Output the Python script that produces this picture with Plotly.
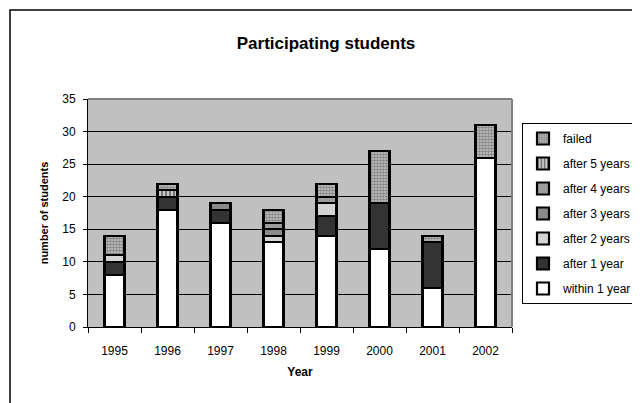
import plotly.graph_objects as go

years = ["1995", "1996", "1997", "1998", "1999", "2000", "2001", "2002"]
within_1 = [8, 18, 16, 13, 14, 12, 6, 26]
after_1 = [2, 2, 2, 0, 3, 7, 7, 0]
after_2 = [1, 0, 0, 1, 2, 0, 0, 0]
after_3 = [0, 0, 1, 1, 0, 0, 0, 0]
after_4 = [0, 0, 0, 1, 1, 0, 0, 0]
after_5 = [0, 1, 0, 0, 0, 0, 0, 0]
failed = [3, 1, 0, 2, 2, 8, 1, 5]

series = [
    ("within 1 year", within_1, dict(color="#ffffff")),
    ("after 1 year", after_1, dict(color="#333333")),
    ("after 2 years", after_2, dict(color="#d4d4d4")),
    ("after 3 years", after_3, dict(color="#8a8a8a")),
    ("after 4 years", after_4, dict(color="#9c9c9c")),
    ("after 5 years", after_5, dict(color="#c0c0c0",
                                    pattern=dict(shape="|", fgcolor="#222222", bgcolor="#c8c8c8", size=4, solidity=0.5))),
    ("failed", failed, dict(color="#c0c0c0",
                             pattern=dict(shape=".", fgcolor="#404040", bgcolor="#c8c8c8", size=3, solidity=0.6))),
]

fig = go.Figure()
n = len(series)
for i, (name, vals, mk) in enumerate(series):
    marker = dict(mk)
    marker["line"] = dict(color="#000000", width=2.2)
    fig.add_trace(go.Bar(
        x=years, y=vals, name=name, width=0.38, marker=marker,
        legendgroup=name, legendrank=n - i,
    ))

# page body adds an 8px offset; work in page pixels and subtract it
OFF = 8
W, H = 640 - OFF, 403 - OFF
L, R, T, B = 88 - OFF, 512 - OFF, 99 - OFF, 327 - OFF
pw, ph = R - L, B - T

def px(x):
    return (x - OFF - L) / pw

def py(y):
    return (B - (y - OFF)) / ph

fig.update_layout(
    width=W, height=H,
    margin=dict(l=L, r=W - R, t=T, b=H - B, autoexpand=False),
    barmode="stack",
    paper_bgcolor="#ffffff",
    plot_bgcolor="#c0c0c0",
    font=dict(family="Liberation Sans, Arial", size=12, color="#000000"),
    title=dict(text="<b>Participating students</b>", x=(326 - OFF) / W, xanchor="center",
               y=1 - (43 - OFF) / H, yanchor="middle", font=dict(size=17)),
    showlegend=True,
    legend=dict(x=px(522), xanchor="left", y=py(123), yanchor="top",
                bordercolor="#000000", borderwidth=1, bgcolor="#ffffff",
                font=dict(size=12), traceorder="grouped", tracegroupgap=6,
                itemwidth=30),
    xaxis=dict(type="category", showline=True, linecolor="#000000", linewidth=1,
               ticks="outside", tickson="boundaries", ticklen=5, tickcolor="#000000",
               ticklabelstandoff=13,
               title=dict(text="<b>Year</b>", font=dict(size=12), standoff=10),
               tickfont=dict(size=12), showgrid=False, automargin=False),
    yaxis=dict(range=[0, 35], dtick=5, showline=True, linecolor="#000000", linewidth=1,
               ticks="outside", ticklen=4, tickcolor="#000000",
               ticklabelstandoff=5,
               showgrid=True, gridcolor="#000000", gridwidth=1,
               title=dict(text="<b>number of students</b>", font=dict(size=11), standoff=11),
               tickfont=dict(size=12), zeroline=False, automargin=False),
    shapes=[
        dict(type="rect", xref="paper", yref="paper", x0=px(10), x1=px(700),
             y0=py(500), y1=py(10), line=dict(color="#000000", width=1.5), fillcolor="rgba(0,0,0,0)",
             layer="below"),
        dict(type="line", xref="paper", yref="paper", x0=0, x1=1, y0=1, y1=1,
             line=dict(color="#808080", width=2)),
        dict(type="line", xref="paper", yref="paper", x0=1, x1=1, y0=0, y1=1,
             line=dict(color="#808080", width=2)),
    ],
)

fig.write_html("out.html")
